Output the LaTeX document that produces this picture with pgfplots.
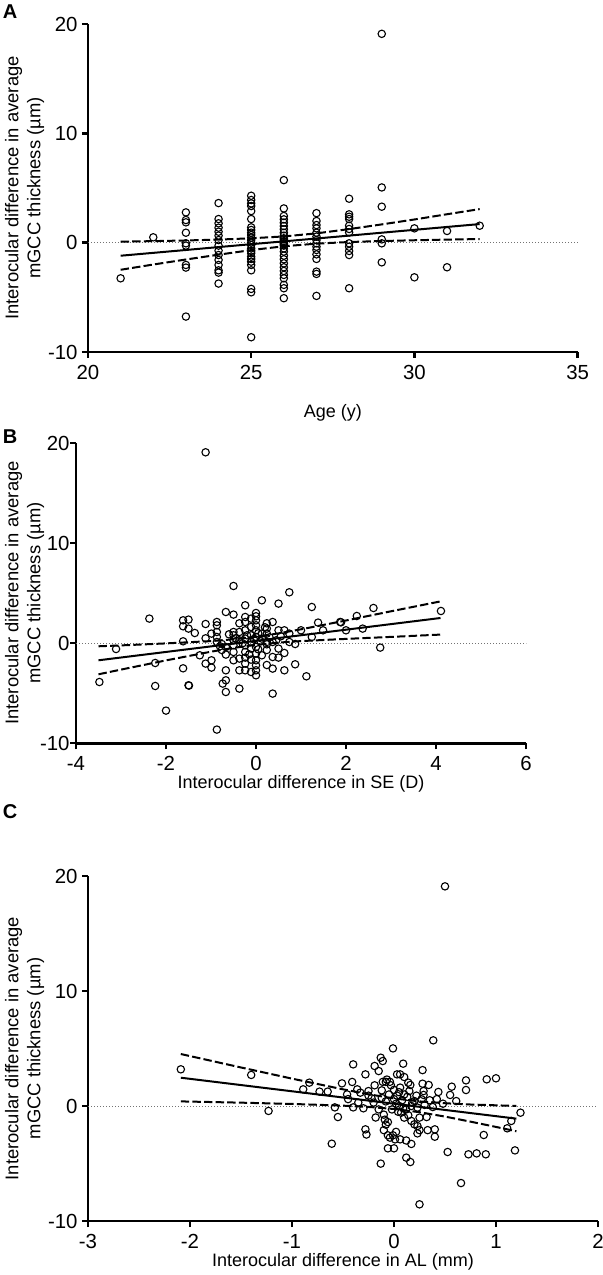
\documentclass[border=0pt]{standalone}
\usepackage{pgfplots}
\pgfplotsset{compat=1.18}
\usepackage{fontspec}
\setmainfont{Liberation Sans}

\pgfplotsset{
  prism/.style={
    scale only axis,
    axis lines=left,
    axis line style={-, line width=1.4pt, black},
    tick align=outside,
    major tick length=3pt,
    tick style={line width=1.2pt, black},
    ytick={-10,0,10,20},
    ymin=-10, ymax=20,
    clip=false,
    tick label style={font=\fontsize{10.2}{12}\selectfont},
    yticklabel style={xshift=1.3pt},
    label style={font=\fontsize{9}{11}\selectfont},
    /pgf/number format/assume math mode=true,
    anchor=south west,
  },
  pts/.style={only marks, mark=o, mark size=1.85pt, mark options={line width=0.55pt, black}},
  fit/.style={no marks, black, line width=1pt},
  ci/.style={no marks, black, line width=1pt, dash pattern=on 4.2pt off 1.6pt},
  zero/.style={no marks, black!55, line width=0.5pt, densely dotted},
}

\begin{document}
\begin{tikzpicture}
\path[use as bounding box] (0,0) rectangle (301.5pt,637.5pt);

% ---------------- Panel A ----------------
\begin{axis}[prism,
  at={(44pt,461.5pt)},
  width=244.8pt, height=164pt,
  xmin=20, xmax=35, xtick={20,25,30,35},
  xlabel={Age (y)},
  xlabel style={at={(axis description cs:0.5,0)}, anchor=center, yshift=-30.5pt},
]
\addplot[zero] coordinates {(20,0) (35,0)};
\addplot[pts] table {
21 -3.26
22 0.49
23 2.77
23 2.07
23 1.86
23 0.91
23 -0.06
23 -0.27
23 -2.04
23 -2.28
23 -6.76
24 3.62
24 2.16
24 1.77
24 1.37
24 1.00
24 0.64
24 0.24
24 -0.27
24 -0.73
24 -1.13
24 -1.58
24 -2.04
24 -2.53
24 -2.74
24 -3.74
25 4.29
25 3.90
25 3.59
25 3.35
25 2.89
25 2.16
25 1.40
25 1.16
25 0.91
25 0.70
25 0.46
25 0.24
25 0.00
25 -0.21
25 -0.52
25 -0.76
25 -0.97
25 -1.28
25 -1.49
25 -1.74
25 -2.04
25 -2.53
25 -4.23
25 -4.54
25 -8.65
26 5.72
26 3.13
26 2.44
26 2.13
26 1.83
26 1.52
26 1.22
26 0.91
26 0.64
26 0.40
26 0.30
26 0.15
26 0.05
26 -0.06
26 -0.15
26 -0.27
26 -0.52
26 -0.82
26 -1.19
26 -1.52
26 -1.89
26 -2.25
26 -2.59
26 -2.95
26 -3.26
26 -3.86
26 -4.17
26 -5.08
27 2.70
27 1.98
27 1.61
27 1.31
27 0.91
27 0.55
27 0.24
27 -0.06
27 -0.37
27 -0.67
27 -1.07
27 -1.49
27 -2.65
27 -2.86
27 -4.87
28 4.02
28 2.59
28 2.37
28 2.16
28 1.55
28 1.25
28 0.94
28 -0.06
28 -0.37
28 -0.76
28 -1.13
28 -4.17
29 19.10
29 5.05
29 3.29
29 0.30
29 -0.06
29 -1.80
30 1.31
30 -3.17
31 1.07
31 -2.25
32 1.55
};
\addplot[fit] coordinates {(21,-1.195) (23,-0.67) (25,-0.14) (26,0.12) (27,0.38) (29,0.91) (32,1.70)};
\addplot[ci] coordinates {(21,0.09) (22,0.14) (23,0.20) (24,0.28) (25,0.40) (26,0.57) (27,0.85) (28,1.24) (29,1.67) (30,2.12) (31,2.60) (32,3.07)};
\addplot[ci] coordinates {(21,-2.48) (22,-2.00) (23,-1.54) (24,-1.10) (25,-0.68) (26,-0.33) (27,-0.09) (28,0.06) (29,0.15) (30,0.22) (31,0.28) (32,0.33)};
\end{axis}

% ---------------- Panel B ----------------
\begin{axis}[prism,
  at={(38pt,265.85pt)},
  width=225pt, height=150pt,
  xmin=-4, xmax=6, xtick={-4,-2,0,2,4,6},
  xlabel={Interocular difference in SE (D)},
  xlabel style={at={(axis description cs:0.5,0)}, anchor=center, yshift=-20.5pt},
  yticklabel style={xshift=2pt},
]
\addplot[zero] coordinates {(-4,0) (6,0)};
\addplot[pts] table {
-3.48 -3.87
-3.11 -0.57
-2.37 2.47
-2.24 -1.97
-2.24 -4.27
-2.00 -6.73
-1.62 2.30
-1.62 1.70
-1.62 0.20
-1.62 -2.50
-1.50 2.37
-1.50 1.47
-1.50 -4.20
-1.49 -4.23
-1.36 1.03
-1.25 -1.20
-1.12 1.93
-1.12 -2.03
-1.12 0.50
-1.12 19.10
-0.99 0.97
-0.99 -1.70
-0.99 -2.43
-0.87 2.13
-0.87 1.80
-0.87 1.13
-0.87 0.63
-0.87 0.13
-0.87 -8.63
-0.80 -0.30
-0.76 -0.07
-0.76 -0.67
-0.74 -4.03
-0.67 -0.37
-0.67 -2.70
-0.67 -3.70
-0.67 -4.87
-0.67 3.13
-0.67 -1.13
-0.60 0.90
-0.50 5.73
-0.50 2.87
-0.50 1.13
-0.50 0.80
-0.50 0.30
-0.50 -0.20
-0.50 -0.87
-0.50 -1.70
-0.45 0.50
-0.37 2.00
-0.37 1.13
-0.37 0.30
-0.37 -1.53
-0.37 -2.70
-0.37 -4.53
-0.30 0.00
-0.24 3.80
-0.24 2.63
-0.24 2.13
-0.24 1.30
-0.24 0.47
-0.24 -0.20
-0.24 -0.87
-0.24 -1.43
-0.24 -2.03
-0.24 -2.70
-0.20 0.80
-0.15 -1.10
-0.11 2.47
-0.11 1.63
-0.11 0.80
-0.11 0.13
-0.11 -0.53
-0.11 -1.63
-0.11 -2.87
-0.05 0.40
0.00 3.03
0.00 2.70
0.00 2.30
0.00 1.80
0.00 1.30
0.00 0.63
0.00 -0.37
0.00 -1.03
0.00 -1.70
0.00 -2.20
0.00 -2.70
0.00 -3.20
0.05 1.00
0.05 -0.60
0.10 0.20
0.13 4.30
0.13 0.97
0.13 0.47
0.13 -1.20
0.20 1.60
0.24 2.00
0.24 1.47
0.24 0.97
0.24 0.13
0.24 -0.10
0.24 -0.67
0.24 -2.17
0.30 0.60
0.37 2.13
0.37 0.13
0.37 -1.37
0.37 -2.53
0.37 -5.03
0.45 0.30
0.50 3.97
0.50 1.30
0.50 -0.53
0.50 -1.43
0.55 0.70
0.63 1.30
0.63 -2.70
0.63 -0.97
0.74 5.10
0.74 0.97
0.74 0.13
0.87 -0.07
0.87 -2.10
1.00 1.30
1.12 -3.30
1.24 3.63
1.24 0.63
1.38 2.07
1.49 1.30
1.87 2.13
1.89 2.10
2.00 1.30
2.24 2.73
2.37 1.47
2.61 3.53
2.76 -0.43
4.11 3.23
};
\addplot[fit] coordinates {(-3.5,-1.70) (4.1,2.53)};
\addplot[ci] coordinates {(-3.5,-0.30) (-3,-0.21) (-2,-0.01) (-1,0.22) (-0.5,0.40) (0,0.65) (0.5,0.99) (1,1.40) (2,2.28) (3,3.20) (4.1,4.19)};
\addplot[ci] coordinates {(-3.5,-3.10) (-3,-2.63) (-2,-1.71) (-1,-0.84) (-0.5,-0.46) (0,-0.15) (0.5,0.07) (1,0.22) (2,0.44) (3,0.64) (4.1,0.87)};
\end{axis}

% ---------------- Panel C ----------------
\begin{axis}[prism,
  at={(44pt,27pt)},
  width=255pt, height=172.5pt,
  xmin=-3, xmax=2, xtick={-3,-2,-1,0,1,2},
  xlabel={Interocular difference in AL (mm)},
  xlabel style={at={(axis description cs:0.5,0)}, anchor=center, yshift=-20.5pt},
]
\addplot[zero] coordinates {(-3,0) (2,0)};
\addplot[pts] table {
-2.09 3.19
-1.40 2.70
-1.23 -0.43
-0.89 1.45
-0.83 2.03
-0.73 1.25
-0.65 1.25
-0.61 -3.28
-0.58 -0.12
-0.55 -0.96
-0.51 1.97
-0.46 1.01
-0.45 0.60
-0.41 2.09
-0.40 3.62
-0.40 -0.12
-0.36 1.45
-0.35 0.30
-0.33 1.16
-0.30 -0.20
-0.28 2.75
-0.28 -2.03
-0.27 -2.48
-0.25 1.30
-0.25 0.90
-0.22 0.67
-0.20 0.30
-0.19 1.80
-0.19 3.48
-0.18 -1.00
-0.15 3.04
-0.15 -0.30
-0.13 4.20
-0.13 -5.01
-0.12 1.36
-0.12 0.70
-0.11 3.91
-0.11 2.10
-0.10 -0.75
-0.10 -2.10
-0.09 -1.19
-0.08 2.10
-0.08 -1.62
-0.08 0.40
-0.07 2.30
-0.06 -2.55
-0.06 -3.68
-0.06 -1.40
-0.05 1.00
-0.04 2.10
-0.04 -2.75
-0.03 1.80
-0.02 -0.30
-0.01 5.01
-0.01 -2.55
0.00 0.60
0.00 1.40
0.00 -3.68
0.01 -2.90
0.02 -2.25
0.02 0.20
0.03 2.75
0.03 0.90
0.04 -0.50
0.05 1.20
0.05 0.00
0.06 2.75
0.06 1.60
0.06 -2.90
0.07 -0.58
0.08 0.50
0.09 3.68
0.09 -0.20
0.10 2.52
0.10 1.00
0.10 -1.01
0.12 -0.30
0.12 -3.00
0.12 -4.49
0.13 0.80
0.14 2.03
0.14 -0.80
0.15 1.30
0.16 1.83
0.16 -4.87
0.17 0.00
0.17 -1.30
0.17 -3.30
0.18 0.30
0.20 0.43
0.20 -1.59
0.22 0.90
0.23 -0.14
0.23 -1.74
0.23 -2.38
0.25 -1.01
0.25 -2.10
0.25 -8.55
0.27 0.58
0.28 3.12
0.28 1.94
0.29 1.30
0.29 0.96
0.30 0.10
0.32 -0.96
0.33 -2.10
0.34 1.83
0.35 0.50
0.38 -0.09
0.385 5.71
0.40 -2.03
0.40 -2.67
0.42 0.60
0.435 1.22
0.48 0.20
0.50 19.10
0.526 -4.00
0.55 0.96
0.566 1.68
0.61 0.43
0.657 -6.70
0.706 2.23
0.706 1.39
0.73 -4.20
0.81 -4.12
0.88 -2.52
0.90 -4.20
0.909 2.32
1.00 2.41
1.11 -1.94
1.15 -1.30
1.186 -3.86
1.24 -0.58
};
\addplot[fit] coordinates {(-2.09,2.46) (1.2,-1.10)};
\addplot[ci] coordinates {(-2.09,4.52) (-1.5,3.35) (-1,2.38) (-0.5,1.45) (-0.25,1.02) (0,0.66) (0.25,0.40) (0.5,0.24) (0.75,0.13) (1,0.06) (1.2,0.0)};
\addplot[ci] coordinates {(-2.09,0.40) (-1.5,0.29) (-1,0.18) (-0.5,0.03) (-0.25,-0.08) (0,-0.26) (0.25,-0.54) (0.5,-0.92) (0.75,-1.36) (1,-1.82) (1.2,-2.20)};
\end{axis}

% y labels and panel letters
\node[rotate=90, align=center, font=\fontsize{9.2}{11}\selectfont] at (12.3pt,543.5pt) {Interocular difference in average\\mGCC thickness (µm)};
\node[rotate=90, align=center, font=\fontsize{9.2}{11}\selectfont] at (12.3pt,341pt) {Interocular difference in average\\mGCC thickness (µm)};
\node[rotate=90, align=center, font=\fontsize{9.2}{11}\selectfont] at (12.3pt,113.25pt) {Interocular difference in average\\mGCC thickness (µm)};
\node[font=\fontsize{10}{12}\selectfont\bfseries] at (5pt,631.5pt) {A};
\node[font=\fontsize{10}{12}\selectfont\bfseries] at (5pt,419pt) {B};
\node[font=\fontsize{10}{12}\selectfont\bfseries] at (5pt,231.5pt) {C};
\end{tikzpicture}
\end{document}
